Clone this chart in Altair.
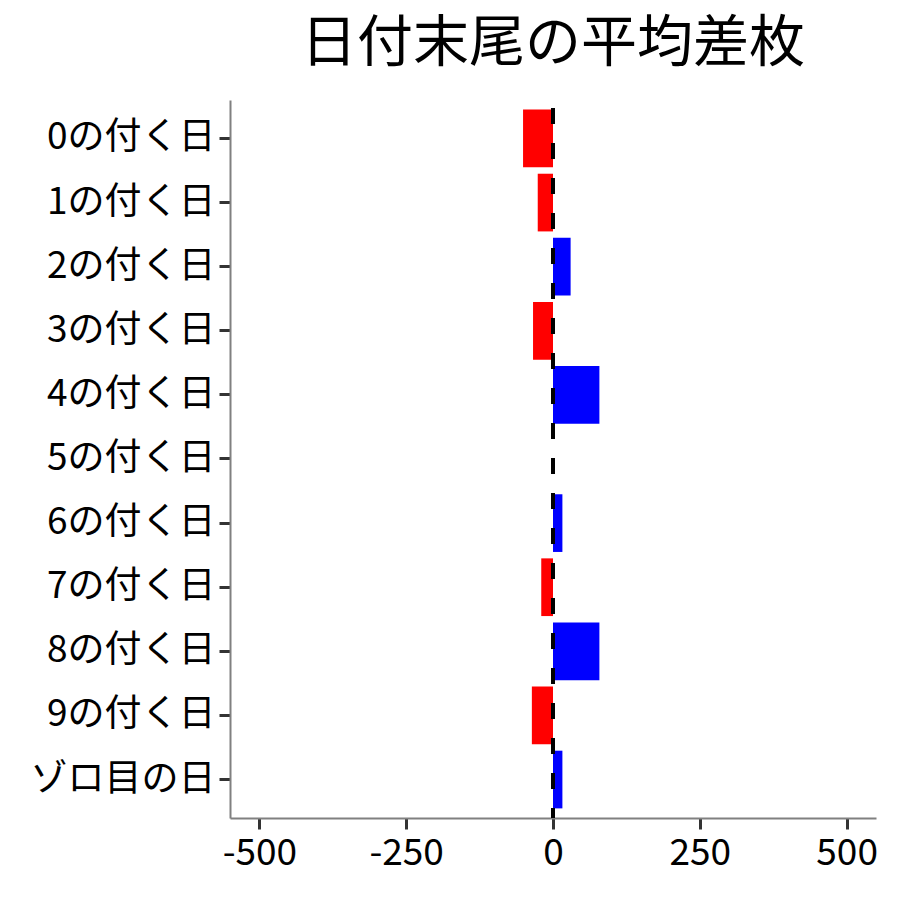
import altair as alt
import pandas as pd

categories = ["0の付く日", "1の付く日", "2の付く日", "3の付く日", "4の付く日",
              "5の付く日", "6の付く日", "7の付く日", "8の付く日", "9の付く日", "ゾロ目の日"]
values = [-51, -26, 30, -34, 79, 0, 16, -20, 79, -36, 16]
x_ticks = [-500, -250, 0, 250, 500]

df = pd.DataFrame({"cat": categories, "val": values})
df["sign"] = ["neg" if v < 0 else "pos" for v in df["val"]]

FONT = "Noto Sans CJK JP"

bars = alt.Chart(df).mark_bar().encode(
    y=alt.Y("cat:N", sort=categories, title=None,
            scale=alt.Scale(paddingInner=0.1, paddingOuter=0.15),
            axis=alt.Axis(labelFont=FONT, labelFontSize=37, labelColor="black", labelLimit=0,
                          labelPadding=4, tickSize=11, tickWidth=3, tickColor="#333333",
                          domainColor="#808080", domainWidth=2, grid=False)),
    x=alt.X("val:Q", title=None,
            scale=alt.Scale(domain=[-550, 550], nice=False, zero=False),
            axis=alt.Axis(values=x_ticks, labelExpr="toString(datum.value)",
                          labelFont=FONT, labelFontSize=37, labelColor="black",
                          labelPadding=6, tickSize=11, tickWidth=3, tickColor="#333333",
                          domainColor="#808080", domainWidth=2, grid=False, labelFlush=False)),
    color=alt.Color("sign:N", scale=alt.Scale(domain=["neg", "pos"], range=["#FF0000", "#0000FF"]),
                    legend=None),
)

zero_df = pd.DataFrame({"z": [0]})
rule = alt.Chart(zero_df).mark_rule(color="black", strokeWidth=4,
                                     strokeDash=[16, 19], strokeDashOffset=27).encode(
    x=alt.X("z:Q")
)

chart = alt.layer(bars, rule).properties(
    width=646, height=718,
    background="white",
    title=alt.Title("日付末尾の平均差枚", font=FONT, fontSize=56, fontWeight="normal",
                    color="black", anchor="middle", offset=25),
    autosize=alt.AutoSizeParams(type="none"),
    padding={"left": 222, "top": 92, "right": 16, "bottom": 70},
).configure_view(strokeWidth=0, stroke="transparent")

chart.save("out.html", embed_options={"renderer": "svg", "actions": False})
